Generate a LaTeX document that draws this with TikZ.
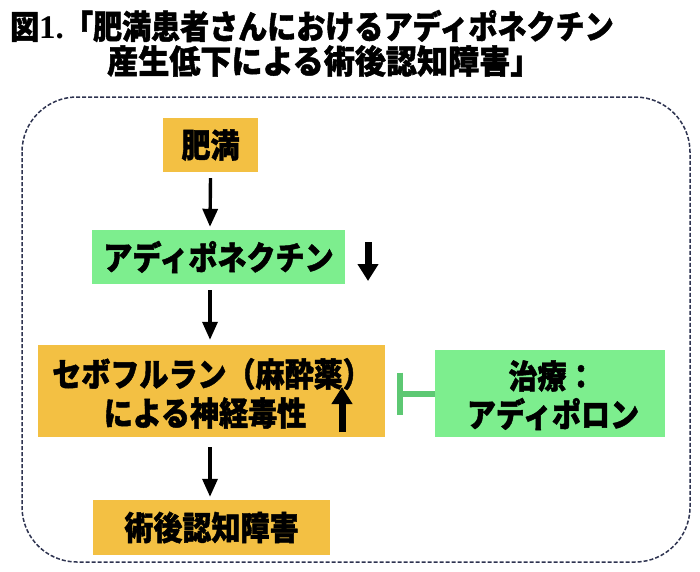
\documentclass[tikz,border=0pt]{standalone}
\usepackage{fontspec}
\setmainfont{Liberation Serif}
\newfontfamily\jp{Noto Sans CJK JP}[FakeStretch=0.88, BoldFeatures={FakeBold=1.3}]
\usetikzlibrary{arrows.meta}
\definecolor{boxorange}{HTML}{F3C043}
\definecolor{boxgreen}{HTML}{7DEE8E}
\definecolor{barg}{HTML}{5DC873}
\definecolor{dashc}{HTML}{2E3350}
\tikzset{
  jpfont/.style={font=\jp\bfseries\fontsize{33}{36}\selectfont},
  obox/.style={fill=boxorange, inner sep=0pt, jpfont},
  gbox/.style={fill=boxgreen, inner sep=0pt, jpfont},
  txt/.style={inner sep=0pt, jpfont},
  arr/.style={draw=black, line width=3.4pt, -{Triangle[width=15pt,length=18pt]}},
  bigarr/.style={draw=black, line width=7pt, -{Triangle[width=20pt,length=17pt]}},
  tbar/.style={draw=barg, line width=6pt},
}
\begin{document}
\begin{tikzpicture}[x=1pt,y=-1pt]
\useasboundingbox[fill=white] (0,0) rectangle (700,571);
% title
\node[txt, anchor=west] (t1) at (10,26) {図{\rmfamily 1.}「肥満患者さんにおけるアディポネクチン};
\node[txt, anchor=west] (t2) at (107,61) {\scalebox{1.07}[1]{産生低下による術後認知障害」}};
% frame
\draw[dashc, dash pattern=on 4pt off 2pt, line width=1.5pt, rounded corners=55pt] (22,97) rectangle (690,562);
% boxes
\node[obox, minimum width=95pt, minimum height=54pt] (himan) at (210.5,145) {肥満};
\node[gbox, minimum width=253pt, minimum height=54pt] (adipo) at (218.5,257) {アディポネクチン};
\node[obox, minimum width=347pt, minimum height=92pt] (sevo) at (211.5,391) {};
\node[txt] (sevo1) at (212,374) {セボフルラン（麻酔薬）};
\node[txt] (sevo2) at (205,413) {による神経毒性};
\node[gbox, minimum width=230pt, minimum height=87pt] (tx) at (550,393.5) {};
\node[txt] (tx1) at (552,376) {治療：};
\node[txt] (tx2) at (553,414) {アディポロン};
\node[obox, minimum width=237pt, minimum height=55pt] (pocd) at (211.5,527.5) {術後認知障害};
% connectors
\coordinate (ax) at (210,0);
\draw[arr] ([yshift=-6pt]himan.south) -- ([yshift=3pt]ax |- adipo.north);
\draw[arr] ([yshift=-6pt]ax |- adipo.south) -- ([yshift=5pt]ax |- sevo.north);
\draw[arr] ([yshift=-10pt]ax |- sevo.south) -- ([yshift=3pt]ax |- pocd.north);
% inhibition
\coordinate (tb) at ([xshift=15pt]sevo.east |- tx.west);
\draw[tbar] (tx.west) -- (tb);
\draw[tbar] ([yshift=21pt]tb) -- ([yshift=-21pt]tb);
% big arrows
\coordinate (dn1) at (368,242);
\coordinate (dn2) at (368,281);
\draw[bigarr] (dn1) -- (dn2);
\coordinate (up1) at (342,432);
\coordinate (up2) at (342,387);
\draw[bigarr] (up1) -- (up2);
\end{tikzpicture}
\end{document}
